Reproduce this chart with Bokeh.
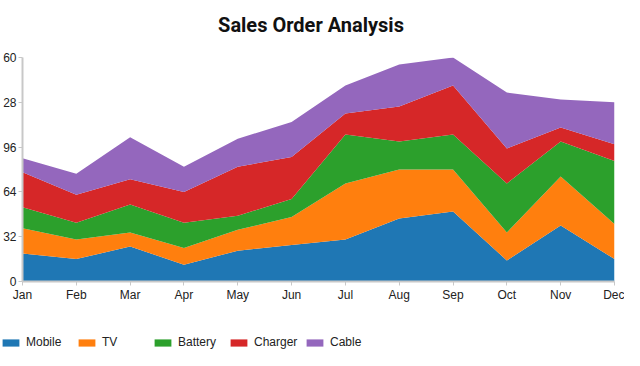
from bokeh.plotting import figure
from bokeh.layouts import column
from bokeh.models import ColumnDataSource, FixedTicker, Legend, Range1d, Label
from bokeh.embed import file_html
from bokeh.resources import INLINE

months = ["Jan", "Feb", "Mar", "Apr", "May", "Jun", "Jul", "Aug", "Sep", "Oct", "Nov", "Dec"]
mobile = [20, 16, 25, 12, 22, 26, 30, 45, 50, 15, 40, 16]
tv = [18, 14, 10, 12, 15, 20, 40, 35, 30, 20, 35, 25]
battery = [15, 12, 20, 18, 10, 13, 35, 20, 25, 35, 25, 45]
charger = [25, 20, 18, 22, 35, 30, 15, 25, 35, 25, 10, 12]
cable = [10, 15, 30, 18, 20, 25, 20, 30, 20, 40, 20, 30]
series = ["Mobile", "TV", "Battery", "Charger", "Cable"]
colors = ["#1f77b4", "#ff7f0e", "#2ca02c", "#d62728", "#9467bd"]
y_ticks = [0, 32, 64, 96, 128, 160]
y_tick_labels = ["0", "32", "64", "96", "28", "60"]
title_text = "Sales Order Analysis"

x = list(range(len(months)))
source = ColumnDataSource(dict(x=x, Mobile=mobile, TV=tv, Battery=battery,
                               Charger=charger, Cable=cable))

# title strip
tt = figure(width=624, height=49, output_backend="svg", toolbar_location=None,
            x_range=Range1d(0, 1), y_range=Range1d(0, 1),
            x_axis_type=None, y_axis_type=None, min_border=0,
            title_location=None)
tt.frame_align = False
tt.grid.visible = False
tt.outline_line_color = None
tt.add_layout(Label(x=310.5, y=25, x_units="screen", y_units="screen",
                    text=title_text, text_align="center",
                    text_baseline="alphabetic", text_font="Roboto",
                    text_font_size="20px", text_font_style="bold",
                    text_color="#111111"))

# main chart
p = figure(width=624, height=255, output_backend="svg", toolbar_location=None,
           x_range=Range1d(0, len(months) - 1), y_range=Range1d(0, 160),
           min_border_left=18, min_border_right=10, min_border_bottom=22,
           min_border_top=8, title_location=None)
p.frame_align = False

renderers = p.varea_stack(stackers=series, x="x", color=colors, source=source)

p.grid.visible = False
p.outline_line_color = None

for ax in (p.xaxis, p.yaxis):
    ax.axis_line_color = "#c8c8c8"
    ax.axis_line_width = 2
    ax.major_tick_line_color = "#c8c8c8"
    ax.major_tick_in = 0
    ax.major_tick_out = 4
    ax.minor_tick_line_color = None
    ax.major_label_text_font = "Liberation Sans"
    ax.major_label_text_font_size = "12px"
    ax.major_label_text_color = "#222222"
    ax.major_label_standoff = 2

p.xaxis.ticker = FixedTicker(ticks=x)
p.xaxis.major_label_overrides = {i: m for i, m in enumerate(months)}
p.yaxis.ticker = FixedTicker(ticks=y_ticks)
p.yaxis.major_label_overrides = {t: l for t, l in zip(y_ticks, y_tick_labels)}

# legend strip below the chart
lg = figure(width=624, height=46, output_backend="svg", toolbar_location=None,
            x_range=Range1d(0, len(months) - 1), y_range=Range1d(-1000, -999),
            x_axis_type=None, y_axis_type=None, min_border=0,
            title_location=None)
lg.frame_align = False
lg.grid.visible = False
lg.outline_line_color = None
lg_renderers = lg.varea_stack(stackers=series, x="x", color=colors, source=source)

legend = Legend(items=[(name, [r]) for name, r in zip(series, lg_renderers)],
                orientation="horizontal", location=(0, 1),
                glyph_width=21, glyph_height=9, label_standoff=5,
                label_width=48, label_height=9, spacing=2, padding=0, margin=0,
                label_text_font="Liberation Sans", label_text_font_size="12px",
                label_text_color="#222222",
                background_fill_alpha=0, border_line_alpha=0)
lg.add_layout(legend, "center")

layout = column(tt, p, lg, spacing=0)
open("out.html", "w").write(file_html(layout, INLINE))
